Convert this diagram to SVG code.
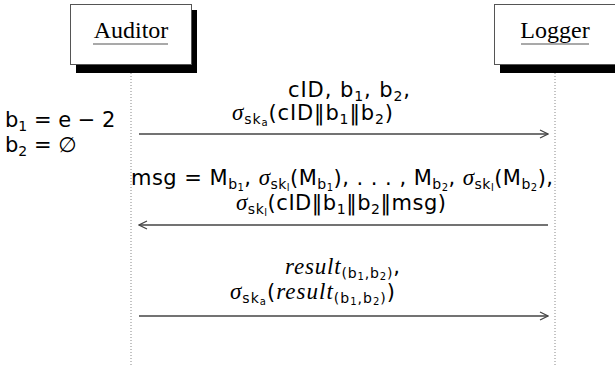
<svg xmlns="http://www.w3.org/2000/svg" width="615" height="367" viewBox="0 0 615 367">
<style>
.box{fill:#fff;stroke:#555;stroke-width:1}
.shadow{fill:#000}
.name{font-family:"Liberation Serif","Times New Roman",serif;font-size:24px;fill:#000}
.ul{stroke:#555;stroke-width:1.2}
.life{stroke:#888;stroke-width:1;stroke-dasharray:1 2}
.msg{stroke:#444;stroke-width:1.3;fill:none}
.m{font-family:"DejaVu Sans","Liberation Sans",sans-serif;font-size:21px;fill:#000}
.g{font-family:"Liberation Serif","Times New Roman",serif;font-style:italic;font-size:23px}
.s{font-size:14px}
.ss{font-size:10px}
</style>
<defs>
<marker id="ah" markerWidth="10" markerHeight="10" refX="9" refY="5" orient="auto" markerUnits="userSpaceOnUse">
<path d="M1,1 L9,5 L1,9" fill="none" stroke="#444" stroke-width="1.2"/>
</marker>
</defs>
<g id="auditor">
<rect class="shadow" x="76" y="10" width="121" height="63"/>
<rect class="box" x="70.5" y="4.5" width="121" height="60"/>
<text class="name" x="131" y="38" text-anchor="middle">Auditor</text>
<line class="ul" x1="93" y1="44" x2="168" y2="44"/>
<line class="life" x1="131" y1="73" x2="131" y2="367"/>
</g>
<g id="logger">
<rect class="shadow" x="500" y="10" width="121" height="63"/>
<rect class="box" x="494.5" y="4.5" width="121" height="60"/>
<text class="name" x="555" y="38" text-anchor="middle">Logger</text>
<line class="ul" x1="521" y1="44" x2="589" y2="44"/>
<line class="life" x1="555" y1="73" x2="555" y2="367"/>
</g>
<g id="note">
<text class="m" x="5" y="127">b<tspan class="s" dy="4">1</tspan><tspan dy="-4"> = e − 2</tspan></text>
<text class="m" x="5" y="152">b<tspan class="s" dy="4">2</tspan><tspan dy="-4"> = ∅</tspan></text>
</g>
<g id="connectors">
<line class="msg" x1="139" y1="134" x2="548" y2="134" marker-end="url(#ah)"/>
<line class="msg" x1="548" y1="225" x2="139" y2="225" marker-end="url(#ah)"/>
<line class="msg" x1="139" y1="316" x2="548" y2="316" marker-end="url(#ah)"/>
</g>
<g id="label1">
<text class="m" x="288" y="97" textLength="122" lengthAdjust="spacing">cID, b<tspan class="s" dy="4">1</tspan><tspan dy="-4">, b</tspan><tspan class="s" dy="4">2</tspan><tspan dy="-4">,</tspan></text>
<text class="m" x="232" y="120" textLength="161" lengthAdjust="spacing"><tspan class="g">σ</tspan><tspan class="s" dy="4">sk</tspan><tspan class="ss" dy="2">a</tspan><tspan dy="-6">(cID‖b</tspan><tspan class="s" dy="4">1</tspan><tspan dy="-4">‖b</tspan><tspan class="s" dy="4">2</tspan><tspan dy="-4">)</tspan></text>
</g>
<g id="label2">
<text class="m" x="131" y="185" textLength="422" lengthAdjust="spacing">msg = M<tspan class="s" dy="4">b</tspan><tspan class="ss" dy="2">1</tspan><tspan dy="-6">, </tspan><tspan class="g">σ</tspan><tspan class="s" dy="4">sk</tspan><tspan class="ss" dy="2">l</tspan><tspan dy="-6">(M</tspan><tspan class="s" dy="4">b</tspan><tspan class="ss" dy="2">1</tspan><tspan dy="-6">), . . . , M</tspan><tspan class="s" dy="4">b</tspan><tspan class="ss" dy="2">2</tspan><tspan dy="-6">, </tspan><tspan class="g">σ</tspan><tspan class="s" dy="4">sk</tspan><tspan class="ss" dy="2">l</tspan><tspan dy="-6">(M</tspan><tspan class="s" dy="4">b</tspan><tspan class="ss" dy="2">2</tspan><tspan dy="-6">),</tspan></text>
<text class="m" x="236" y="210" textLength="210" lengthAdjust="spacing"><tspan class="g">σ</tspan><tspan class="s" dy="4">sk</tspan><tspan class="ss" dy="2">l</tspan><tspan dy="-6">(cID‖b</tspan><tspan class="s" dy="4">1</tspan><tspan dy="-4">‖b</tspan><tspan class="s" dy="4">2</tspan><tspan dy="-4">‖msg)</tspan></text>
</g>
<g id="label3">
<text class="m" x="285" y="274" textLength="115" lengthAdjust="spacing"><tspan class="g">result</tspan><tspan class="s" dy="4">(b</tspan><tspan class="ss" dy="2">1</tspan><tspan class="s" dy="-2">,b</tspan><tspan class="ss" dy="2">2</tspan><tspan class="s" dy="-2">)</tspan><tspan dy="-4">,</tspan></text>
<text class="m" x="230" y="299" textLength="165" lengthAdjust="spacing"><tspan class="g">σ</tspan><tspan class="s" dy="4">sk</tspan><tspan class="ss" dy="2">a</tspan><tspan dy="-6">(</tspan><tspan class="g">result</tspan><tspan class="s" dy="4">(b</tspan><tspan class="ss" dy="2">1</tspan><tspan class="s" dy="-2">,b</tspan><tspan class="ss" dy="2">2</tspan><tspan class="s" dy="-2">)</tspan><tspan dy="-4">)</tspan></text>
</g>
</svg>
